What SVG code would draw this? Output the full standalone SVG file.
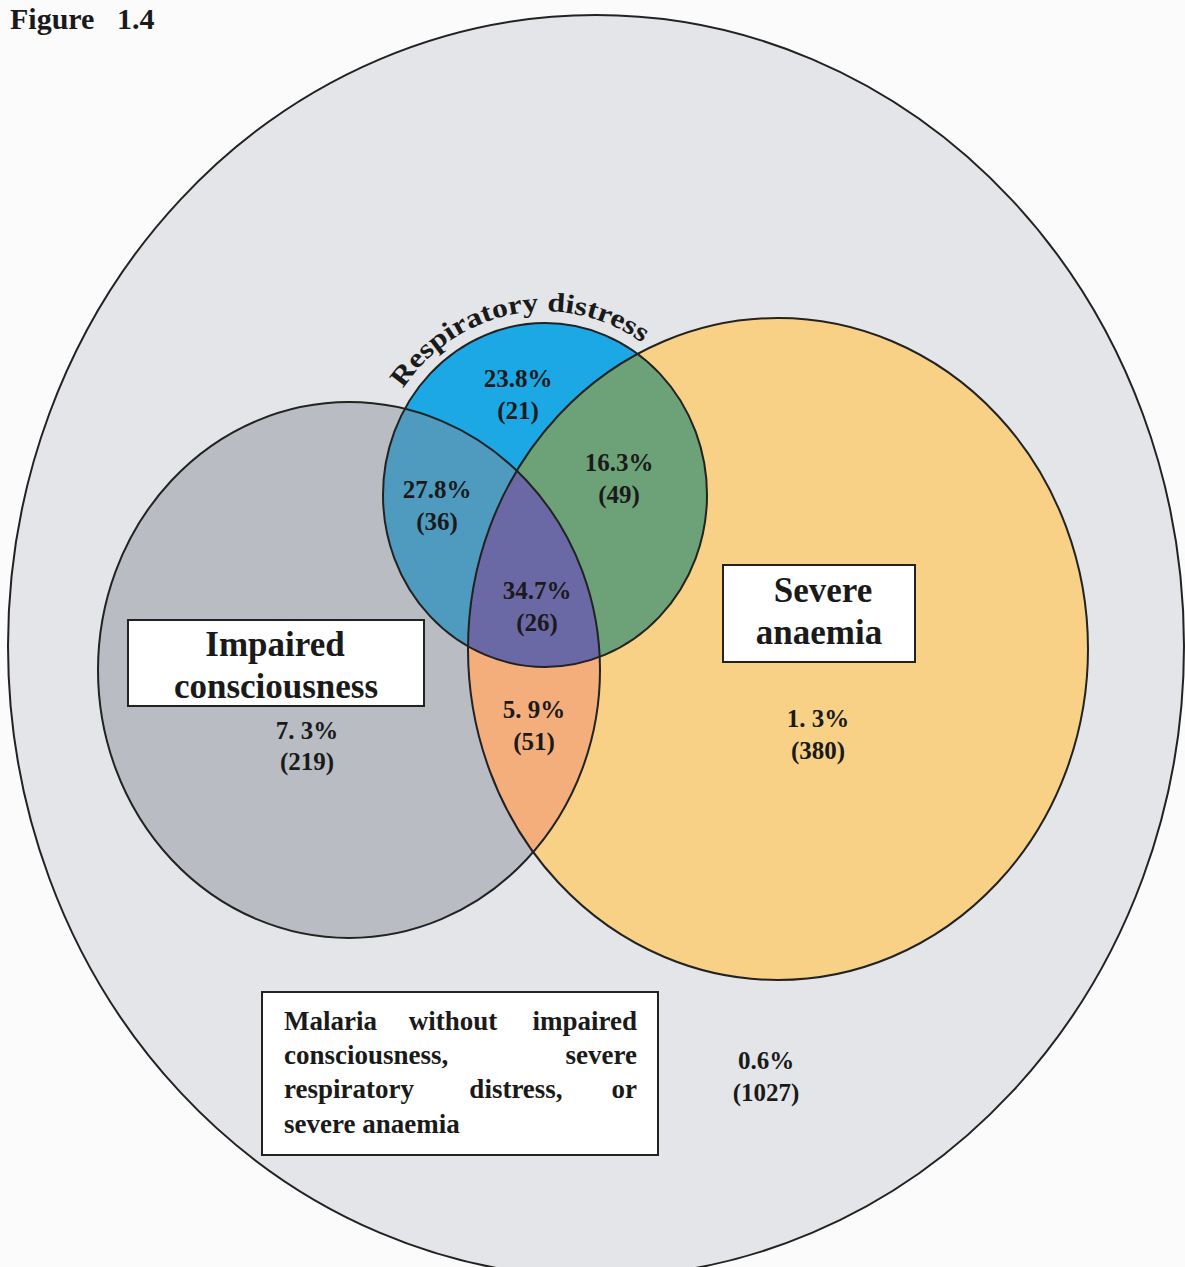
<svg xmlns="http://www.w3.org/2000/svg" width="1185" height="1267" viewBox="0 0 1185 1267">
  <style>
    .lbl { font-family: "Liberation Serif", "Times New Roman", serif; font-weight: bold; fill: #1a1a1a; }
    .num { font-size: 25px; text-anchor: middle; }
    .big { font-size: 35px; text-anchor: middle; }
    .body { font-size: 27px; }
    .edge { fill: none; stroke: #222; stroke-width: 2; }
    .box { fill: #ffffff; stroke: #222; stroke-width: 2; }
  </style>
  <defs>
    <clipPath id="cGray"><ellipse cx="349" cy="670" rx="251" ry="268"/></clipPath>
    <clipPath id="cOrange"><ellipse cx="778" cy="649" rx="310" ry="331"/></clipPath>
    <path id="arcRD" d="M 381 433 A 174 184 0 0 1 678 377"/>
  </defs>
  <rect x="0" y="0" width="1185" height="1267" fill="#fbfbfb"/>

  <g id="figure-title">
    <text class="lbl" x="10" y="29" font-size="30">Figure</text>
    <text class="lbl" x="117" y="29" font-size="30">1.4</text>
  </g>

  <g id="malaria-all">
    <ellipse cx="596" cy="646" rx="588" ry="631" fill="#e3e5e8" stroke="#222" stroke-width="2"/>
  </g>

  <g id="impaired-consciousness">
    <ellipse cx="349" cy="670" rx="251" ry="268" fill="#b9bcc3"/>
  </g>
  <g id="severe-anaemia">
    <ellipse cx="778" cy="649" rx="310" ry="331" fill="#f8d186"/>
    <ellipse cx="778" cy="649" rx="310" ry="331" fill="#f4ae7c" clip-path="url(#cGray)"/>
  </g>
  <g id="respiratory-distress">
    <ellipse cx="545" cy="495" rx="162" ry="172" fill="#1ca7e5"/>
    <ellipse cx="545" cy="495" rx="162" ry="172" fill="#4e9bbf" clip-path="url(#cGray)"/>
    <ellipse cx="545" cy="495" rx="162" ry="172" fill="#6da279" clip-path="url(#cOrange)"/>
    <g clip-path="url(#cGray)">
      <ellipse cx="545" cy="495" rx="162" ry="172" fill="#6b68a6" clip-path="url(#cOrange)"/>
    </g>
  </g>

  <g id="outlines">
    <ellipse class="edge" cx="349" cy="670" rx="251" ry="268"/>
    <ellipse class="edge" cx="778" cy="649" rx="310" ry="331"/>
    <ellipse class="edge" cx="545" cy="495" rx="162" ry="172"/>
  </g>

  <g id="respiratory-label">
    <text class="lbl" font-size="27"><textPath href="#arcRD" startOffset="50%" text-anchor="middle" textLength="272" lengthAdjust="spacingAndGlyphs">Respiratory distress</textPath></text>
  </g>

  <g id="values">
    <text class="lbl num" x="518" y="387">23.8%</text>
    <text class="lbl num" x="518" y="419">(21)</text>
    <text class="lbl num" x="437" y="498">27.8%</text>
    <text class="lbl num" x="437" y="530">(36)</text>
    <text class="lbl num" x="619" y="471">16.3%</text>
    <text class="lbl num" x="619" y="503">(49)</text>
    <text class="lbl num" x="537" y="599">34.7%</text>
    <text class="lbl num" x="537" y="631">(26)</text>
    <text class="lbl num" x="534" y="718">5. 9%</text>
    <text class="lbl num" x="534" y="750">(51)</text>
    <text class="lbl num" x="307" y="739">7. 3%</text>
    <text class="lbl num" x="307" y="770">(219)</text>
    <text class="lbl num" x="818" y="727">1. 3%</text>
    <text class="lbl num" x="818" y="759">(380)</text>
    <text class="lbl num" x="766" y="1069">0.6%</text>
    <text class="lbl num" x="766" y="1101">(1027)</text>
  </g>

  <g id="box-impaired">
    <rect class="box" x="128" y="620" width="296" height="86"/>
    <text class="lbl big" x="275" y="656">Impaired</text>
    <text class="lbl big" x="276" y="698">consciousness</text>
  </g>

  <g id="box-anaemia">
    <rect class="box" x="723" y="565" width="192" height="97"/>
    <text class="lbl big" x="823" y="602">Severe</text>
    <text class="lbl big" x="819" y="644">anaemia</text>
  </g>

  <g id="box-none">
    <rect class="box" x="262" y="992" width="396" height="163"/>
    <text class="lbl body" x="284" y="1030">Malaria</text>
    <text class="lbl body" x="453" y="1030" text-anchor="middle">without</text>
    <text class="lbl body" x="637" y="1030" text-anchor="end">impaired</text>
    <text class="lbl body" x="284" y="1064">consciousness,</text>
    <text class="lbl body" x="637" y="1064" text-anchor="end">severe</text>
    <text class="lbl body" x="284" y="1098">respiratory</text>
    <text class="lbl body" x="516" y="1098" text-anchor="middle">distress,</text>
    <text class="lbl body" x="637" y="1098" text-anchor="end">or</text>
    <text class="lbl body" x="284" y="1133">severe anaemia</text>
  </g>
</svg>
